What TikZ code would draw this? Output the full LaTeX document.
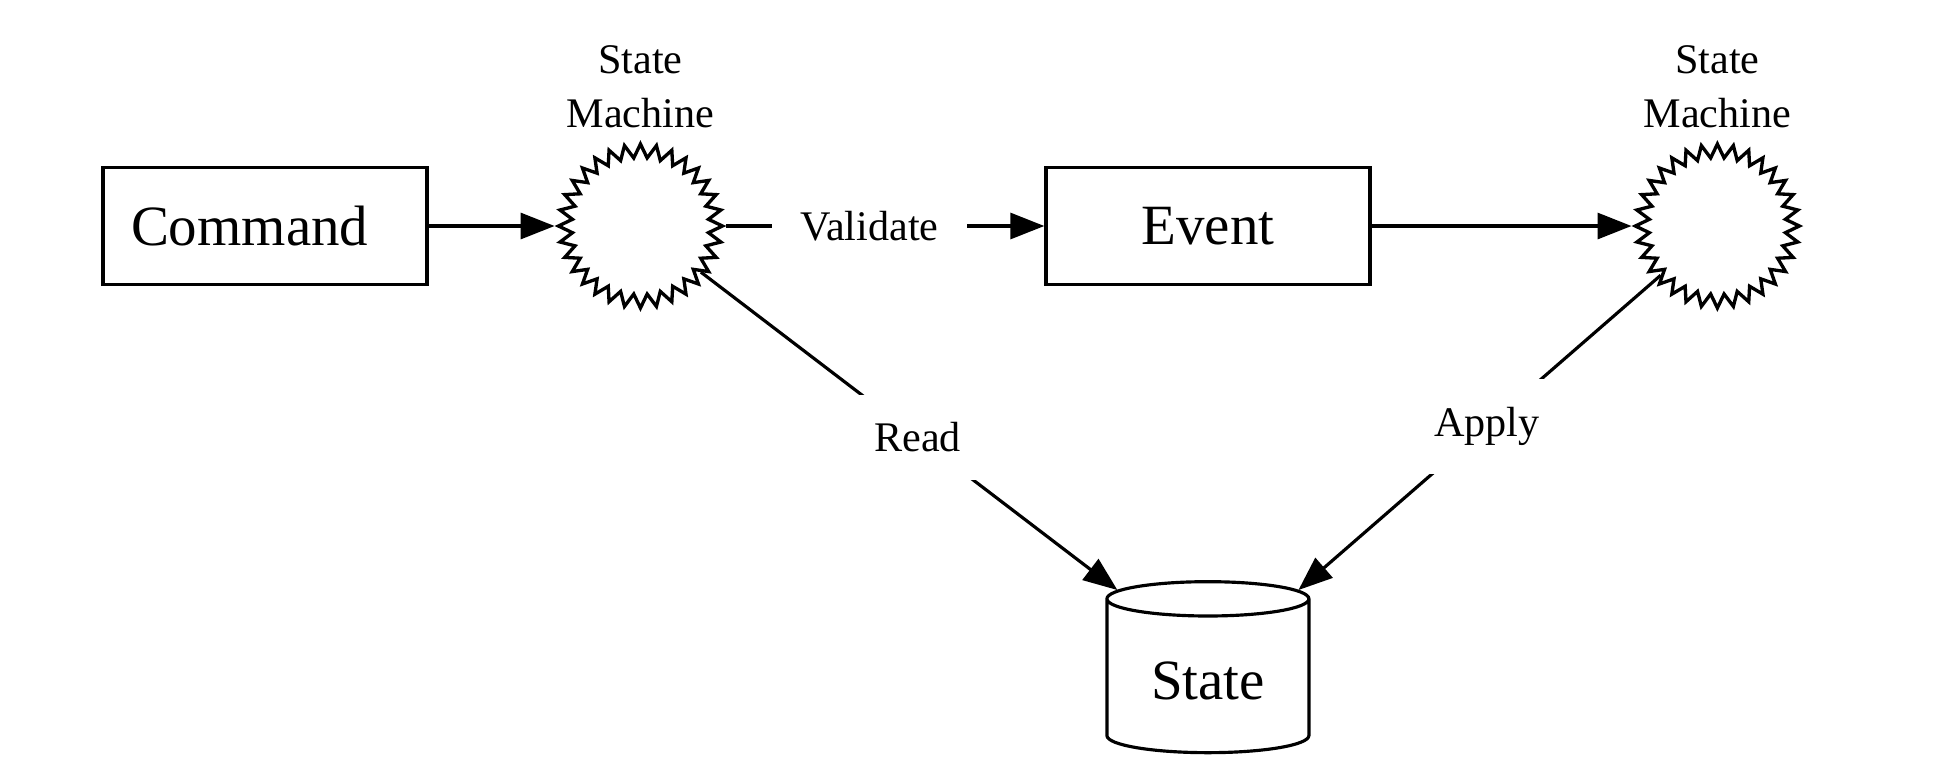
\documentclass[tikz,border=0pt]{standalone}
\usepackage{fontspec}
\setmainfont{Liberation Serif}
\usetikzlibrary{arrows.meta, positioning, shapes.geometric}

\begin{document}
\begin{tikzpicture}[
        node distance=1.26cm and 1.26cm,
        box/.style={
            draw,
            rectangle,
            line width=0.9pt,
            minimum width=3.24cm,
            minimum height=1.17cm,
            align=center,
            font=\fontsize{16.2}{19}\selectfont
        },
        burst/.style={
            draw,
            star,
            star points=32,
            star point ratio=1.2,
            minimum size=1.64cm,
            inner sep=0pt,
            line width=0.95pt
        },
        store/.style={
            draw,
            cylinder,
            shape border rotate=90,
            aspect=0.25,
            minimum width=2.02cm,
            minimum height=1.71cm,
            line width=0.9pt,
            font=\fontsize{16.2}{19}\selectfont
        },
        tag/.style={font=\fontsize{12}{15.2}\selectfont, align=center},
        edgelabel/.style={tag, fill=white, inner sep=0.28cm},
        arrow/.style={-{Triangle[length=0.34cm, width=0.26cm]}, line width=0.9pt}
    ]

    \useasboundingbox (0,0) rectangle (19.52,-7.70);

    % Top row
    \node[box, text width=2.68cm, inner xsep=0.28cm, align=left] (command) at (2.65,-2.26) {Command};
    \node[burst, right=1.26cm of command] (sm1) {};
    \node[box, right=3.18cm of sm1] (event) {Event};
    \node[burst, right=2.60cm of event] (sm2) {};

    % Labels over the state machines
    \node[tag, above=0cm of sm1] (smtext1) {State\\Machine};
    \node[tag, above=0cm of sm2] (smtext2) {State\\Machine};

    % Store
    \node[store, below=2.94cm of event] (state) {State};

    % Arrows
    \draw[arrow] (command) -- (sm1);
    \draw[arrow] (sm1) -- node[edgelabel, pos=0.45] (validate) {Validate} (event);
    \draw[arrow] (event) -- (sm2);

    \draw[arrow] (sm1) -- node[edgelabel, pos=0.52] (read) {Read} (state.north west);
    \draw[arrow] (sm2) -- node[edgelabel, pos=0.48] (apply) {Apply} (state.north east);

\end{tikzpicture}
\end{document}
